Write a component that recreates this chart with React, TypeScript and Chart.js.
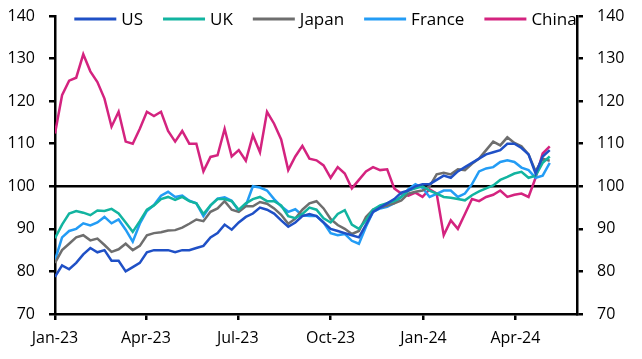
import React, { useEffect, useRef } from 'react';
import { Chart, registerables } from 'chart.js';

Chart.register(...registerables);

const FONT = '"Open Sans", "DejaVu Sans", sans-serif';

const SERIES_NAMES = ['US', 'UK', 'Japan', 'France', 'China'];
const SERIES_COLORS = ['#1f50c6', '#12b4a0', '#6e6e6e', '#239cf5', '#d4237f'];

// x positions: days since 1 Jan 2023, weekly observations
const WEEK_DAYS = Array.from({ length: 71 }, (_, i) => i * 7);

const X_TICK_DAYS = [0, 90, 181, 273, 365, 456];
const X_TICK_LABELS = ['Jan-23', 'Apr-23', 'Jul-23', 'Oct-23', 'Jan-24', 'Apr-24'];
const X_MAX_DAY = 517;

const Y_MIN = 70;
const Y_MAX = 140;
const Y_STEP = 10;
const REF_LINE = 100;

const US = [
  78.7, 81.4, 80.5, 82, 84, 85.5, 84.5, 85, 82.5, 82.5, 80, 81, 82, 84.5, 85, 85, 85, 84.5, 85, 85,
  85.5, 86, 88, 89, 91, 89.8, 91.5, 92.8, 93.6, 95, 94.5, 93.6, 92, 90.5, 91.5, 93,
  93.5, 93, 91.5, 90, 89.5, 89, 88.5, 88, 91, 94, 95, 96, 97, 98.5, 99, 100, 100.5, 100.5, 101.5,
  102.5, 102, 103.5, 104.5, 105.5, 106.5, 107.5, 108, 108.5, 110, 110, 109, 107.5, 103, 107, 108.5,
];

const UK = [
  87.8, 91, 93.6, 94.2, 93.8, 93.2, 94.3, 94.2, 94.7, 93.6, 91.5, 89.3, 91.8, 94.5, 95.5, 97, 97.5,
  96.8, 97.5, 96.5, 96, 93.5, 95.5, 97, 97, 96.5, 94.5, 96, 97, 97.5, 96.5, 96.5, 95.5, 93, 92.5, 93.5,
  95, 94.5, 92.5, 91.5, 93.5, 94.4, 91, 90, 92, 94.5, 95.5, 96, 96.5, 97.5, 99, 99.5, 100, 99, 98.3,
  97.5, 97.3, 97, 96.7, 97.9, 98.8, 99.5, 100.2, 101.5, 102.2, 103, 103.4, 102, 102.5, 105.5, 107,
];

const JAPAN = [
  82, 85, 86.5, 88, 88.5, 87.3, 87.7, 86.2, 84.6, 85.2, 86.5, 85, 86, 88.5, 89, 89.2, 89.6, 89.7,
  90.3, 91.2, 92.2, 91.8, 94, 94.8, 96.5, 94.5, 94, 95.3, 95.3, 96.3, 95.9, 94.8, 93.3, 91.2, 92.4, 94.5,
  96, 96.5, 94.8, 92.3, 90.9, 90, 88.8, 89.5, 92.8, 94.5, 95, 95.5, 96, 96.7, 98.3, 98.7, 99, 100,
  102.8, 103.2, 102.8, 104, 103.8, 105.3, 106.5, 108.5, 110.5, 109.6, 111.5, 110.2, 109.4, 107.5,
  103.5, 106.5, 106,
];

const FRANCE = [
  82.6, 88, 89.5, 90, 91.3, 90.8, 91.5, 92.8, 91.3, 92.2, 89.8, 87, 91.2, 94.2, 95.6, 97.8, 98.7,
  97.5, 97.8, 96.6, 96, 93, 95.5, 97.1, 97.4, 96.6, 94.2, 95.5, 100, 99.7, 99, 97, 95.3, 94, 94.6, 93.2,
  93, 93, 91.5, 89, 88.5, 88.8, 87.2, 86.5, 90.5, 94, 94.8, 95.2, 96, 97.6, 99.3, 100.5, 99.6, 97.5,
  98.2, 99, 99, 97.5, 98.3, 100.5, 103.5, 104.2, 104.5, 105.7, 106.1, 105.7, 104.4, 103.8, 102, 102.5,
  105.5,
];

const CHINA = [
  112.4, 121.4, 124.8, 125.5, 131, 127, 124.5, 120.6, 114, 117.5, 110.5, 110, 113.5, 117.5, 116.5,
  117.5, 113, 110.5, 113, 110, 110, 103.5, 106.9, 107.3, 113.5, 107, 108.5, 106, 112, 108, 117.5,
  114.7, 111, 103.8, 107, 109.5, 106.5, 106.1, 104.9, 102, 104.5, 103, 99.5, 101.5, 103.5, 104.5,
  103.8, 104, 99.5, 98.3, 97.8, 98.5, 97.5, 99.3, 98.3, 88.5, 92, 90, 93.5, 97, 96.5, 97.5, 98, 99,
  97.5, 98, 98.3, 97.5, 102, 107.7, 109.4,
];

const SERIES_VALUES = [US, UK, JAPAN, FRANCE, CHINA];

const refLinePlugin = {
  id: 'refLine',
  beforeDatasetsDraw(chart: any) {
    const { ctx, chartArea } = chart;
    const y = chart.scales.y.getPixelForValue(REF_LINE);
    ctx.save();
    ctx.strokeStyle = '#000';
    ctx.lineWidth = 2.5;
    ctx.beginPath();
    ctx.moveTo(chartArea.left, y);
    ctx.lineTo(chartArea.right, y);
    ctx.stroke();
    ctx.restore();
  },
};

const legendPlugin = {
  id: 'topLegend',
  afterDatasetsDraw(chart: any) {
    const { ctx, chartArea } = chart;
    const sampleW = 42;
    const gapText = 5;
    const gapItem = 20;
    ctx.save();
    ctx.font = `17px ${FONT}`;
    const ds = chart.data.datasets;
    const widths = ds.map((d: any) => ctx.measureText(d.label).width);
    const total =
      widths.reduce((a: number, w: number) => a + sampleW + gapText + w, 0) + gapItem * (ds.length - 1);
    let x = (chartArea.left + chartArea.right) / 2 + 9.5 - total / 2;
    const y = chartArea.top + 3;
    ds.forEach((d: any, i: number) => {
      ctx.strokeStyle = d.borderColor;
      ctx.lineWidth = 3;
      ctx.beginPath();
      ctx.moveTo(x, y);
      ctx.lineTo(x + sampleW, y);
      ctx.stroke();
      ctx.fillStyle = '#000';
      ctx.textBaseline = 'middle';
      ctx.textAlign = 'left';
      ctx.fillText(d.label, x + sampleW + gapText, y + 1);
      x += sampleW + gapText + widths[i] + gapItem;
    });
    ctx.restore();
  },
};

const fitY = (width: number) => (scale: any) => {
  scale.width = width;
  scale.paddingTop = 0;
  scale.paddingBottom = 0;
};

export default function App() {
  const ref = useRef<HTMLCanvasElement | null>(null);

  useEffect(() => {
    if (!ref.current) return;
    const datasets = SERIES_NAMES.map((name, i) => ({
      label: name,
      data: SERIES_VALUES[i].map((v, j) => ({ x: WEEK_DAYS[j], y: v })),
      borderColor: SERIES_COLORS[i],
      backgroundColor: SERIES_COLORS[i],
      borderWidth: 2.5,
      pointRadius: 0,
      tension: 0,
      yAxisID: 'y',
    }));

    const yScaleCommon = {
      type: 'linear' as const,
      min: Y_MIN,
      max: Y_MAX,
      ticks: {
        stepSize: Y_STEP,
        color: '#000',
        padding: 14,
        font: { family: FONT, size: 16 },
      },
      grid: {
        drawOnChartArea: false,
        drawTicks: true,
        tickLength: 6,
        color: '#000',
        lineWidth: 2.5,
      },
      border: { display: true, color: '#000', width: 2.5 },
    };

    const chart = new Chart(ref.current, {
      type: 'line',
      data: { datasets },
      options: {
        animation: false,
        responsive: false,
        layout: { padding: { top: 16, left: 0, right: 0, bottom: 0 } },
        plugins: { legend: { display: false }, tooltip: { enabled: false } },
        scales: {
          x: {
            type: 'linear',
            min: 0,
            max: X_MAX_DAY,
            afterBuildTicks: (scale: any) => {
              scale.ticks = X_TICK_DAYS.map((v) => ({ value: v }));
            },
            afterFit: (scale: any) => {
              scale.height = 45;
            },
            ticks: {
              autoSkip: false,
              maxRotation: 0,
              color: '#000',
              padding: 9,
              font: { family: FONT, size: 16 },
              callback: (_v: any, idx: number) => X_TICK_LABELS[idx],
            },
            grid: {
              drawOnChartArea: false,
              drawTicks: true,
              tickLength: 6,
              color: '#000',
              lineWidth: 2.5,
            },
            border: { display: true, color: '#000', width: 2.5 },
          },
          y: {
            ...yScaleCommon,
            position: 'left',
            afterFit: fitY(55),
          },
          y1: {
            ...yScaleCommon,
            position: 'right',
            afterFit: fitY(65),
          },
        },
      },
      plugins: [refLinePlugin, legendPlugin],
    } as any);

    return () => chart.destroy();
  }, []);

  return (
    <div style={{ position: 'absolute', left: 0, top: 0, width: 642, height: 359, background: '#fff' }}>
      <canvas ref={ref} width={642} height={359} style={{ display: 'block' }} />
    </div>
  );
}
